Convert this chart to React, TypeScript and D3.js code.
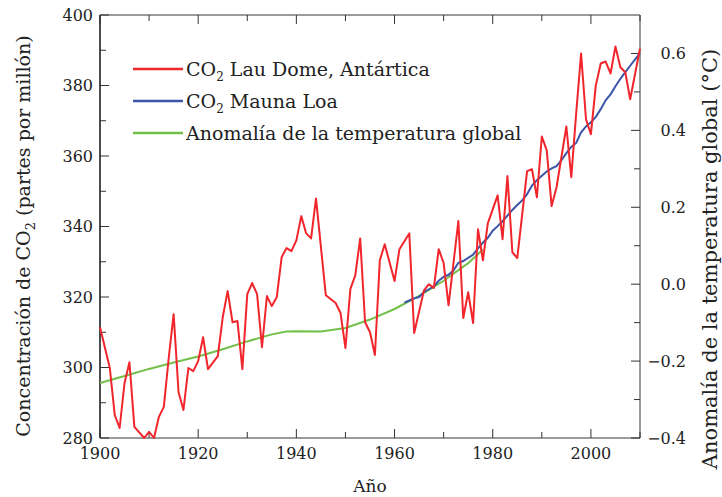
import React from 'react'
import * as d3 from 'd3'

// red series (global temperature anomaly, right axis)
const redYears = [1900, 1902, 1903, 1904, 1905, 1906, 1907, 1909, 1910, 1911, 1912, 1913, 1914, 1915, 1916, 1917, 1918, 1919, 1920, 1921, 1922, 1924, 1925, 1926, 1927, 1928, 1929, 1930, 1931, 1932, 1933, 1934, 1935, 1936, 1937, 1938, 1939, 1940, 1941, 1942, 1943, 1944, 1946, 1948, 1949, 1950, 1951, 1952, 1953, 1954, 1955, 1956, 1957, 1958, 1960, 1961, 1963, 1964, 1966, 1967, 1968, 1969, 1970, 1971, 1973, 1974, 1975, 1976, 1977, 1978, 1979, 1981, 1982, 1983, 1984, 1985, 1987, 1988, 1989, 1990, 1991, 1992, 1993, 1995, 1996, 1997, 1998, 1999, 2000, 2001, 2002, 2003, 2004, 2005, 2006, 2007, 2008, 2010]
const redValues = [-0.112, -0.218, -0.34, -0.374, -0.257, -0.203, -0.371, -0.4, -0.384, -0.4, -0.345, -0.319, -0.192, -0.078, -0.281, -0.327, -0.218, -0.226, -0.2, -0.138, -0.221, -0.187, -0.086, -0.018, -0.099, -0.096, -0.221, -0.026, 0.003, -0.026, -0.164, -0.031, -0.057, -0.034, 0.07, 0.094, 0.086, 0.114, 0.177, 0.132, 0.119, 0.223, -0.029, -0.049, -0.075, -0.166, -0.013, 0.023, 0.119, -0.099, -0.125, -0.184, 0.062, 0.104, 0.008, 0.091, 0.132, -0.127, -0.016, 0.0, -0.01, 0.091, 0.055, -0.055, 0.164, -0.088, -0.021, -0.101, 0.143, 0.062, 0.158, 0.231, 0.117, 0.281, 0.083, 0.068, 0.294, 0.299, 0.226, 0.384, 0.348, 0.203, 0.252, 0.41, 0.278, 0.444, 0.6, 0.429, 0.39, 0.517, 0.574, 0.579, 0.548, 0.618, 0.564, 0.551, 0.481, 0.613]

// Mauna Loa CO2 (ppm, left axis)
const maunaYears = d3.range(1962, 2011)
const maunaValues = [318.4, 319.0, 319.6, 320.0, 321.4, 322.2, 323.0, 324.6, 325.7, 326.3, 327.5, 329.7, 330.2, 331.1, 332.0, 333.8, 335.4, 336.8, 338.8, 340.1, 341.5, 343.1, 344.7, 346.1, 347.4, 349.2, 351.6, 353.1, 354.4, 355.6, 356.5, 357.1, 358.8, 360.8, 362.6, 363.7, 366.7, 368.4, 369.6, 371.1, 373.3, 375.8, 377.5, 379.8, 381.9, 383.8, 385.6, 387.4, 389.2]

// green smooth series (ppm, left axis)
const greenYears = [1900, 1905, 1910, 1915, 1920, 1925, 1930, 1935, 1938, 1940, 1945, 1950, 1955, 1960, 1965, 1970, 1975, 1978]
const greenValues = [295.6, 297.6, 299.6, 301.4, 303.1, 305.2, 307.4, 309.4, 310.2, 310.3, 310.2, 311.2, 313.6, 316.6, 320.3, 324.6, 329.6, 333.5]

const leftTicks = [280, 300, 320, 340, 360, 380, 400]
const leftMinor = [290, 310, 330, 350, 370, 390]
const rightTicks = [-0.4, -0.2, 0.0, 0.2, 0.4, 0.6]
const rightMinor = [-0.3, -0.1, 0.1, 0.3, 0.5]
const yearTicks = [1900, 1920, 1940, 1960, 1980, 2000]
const yearMinor = [1910, 1930, 1950, 1970, 1990, 2010]

const legendLabels = ['Lau Dome, Antártica', 'Mauna Loa', 'Anomalía de la temperatura global']
const legendColors = ['#f0262c', '#3b55a8', '#72c04a']

export default function App () {
  const width = 722
  const height = 497
  const left = 100
  const right = 640
  const top = 15
  const bottom = 438
  const font = 'DejaVu Serif'

  const x = d3.scaleLinear().domain([1900, 2010]).range([left, right])
  const yL = d3.scaleLinear().domain([280, 400]).range([bottom, top])
  const yR = d3.scaleLinear().domain([-0.4, 0.7]).range([bottom, top])
  const fmt = d3.format('.1f')

  const lineL = d3.line<number>().x((d, i) => x(greenYears[i])).y(d => yL(d))
  const lineM = d3.line<number>().x((d, i) => x(maunaYears[i])).y(d => yL(d))
  const lineR = d3.line<number>().x((d, i) => x(redYears[i])).y(d => yR(d))

  const axisGray = '#7a7a7a'
  const tickCol = '#333'

  return (
    <svg width={width} height={height} style={{ position: 'absolute', left: 0, top: 0, background: '#fff' }} fontFamily={font}>
      {/* frame */}
      <line x1={left} x2={right} y1={top} y2={top} stroke={axisGray} strokeWidth={1.5} />
      <line x1={left} x2={right} y1={bottom} y2={bottom} stroke={axisGray} strokeWidth={1.5} />
      <line x1={right} x2={right} y1={top} y2={bottom} stroke={axisGray} strokeWidth={1.5} />
      <line x1={left} x2={left} y1={top} y2={bottom} stroke='#111' strokeWidth={1.5} />

      {/* x ticks, bottom and top */}
      {yearTicks.map(t => (
        <g key={'xt' + t}>
          <line x1={x(t)} x2={x(t)} y1={bottom} y2={bottom - 9} stroke={tickCol} />
          <line x1={x(t)} x2={x(t)} y1={top} y2={top + 9} stroke={tickCol} />
          <text x={x(t)} y={459} textAnchor='middle' fontSize={16} fill='#222'>{t}</text>
        </g>
      ))}
      {yearMinor.map(t => (
        <g key={'xm' + t}>
          <line x1={x(t)} x2={x(t)} y1={bottom} y2={bottom - 6} stroke={tickCol} />
          <line x1={x(t)} x2={x(t)} y1={top} y2={top + 6} stroke={tickCol} />
        </g>
      ))}

      {/* left axis */}
      {leftTicks.map(t => (
        <g key={'lt' + t}>
          <line x1={left} x2={left + 9} y1={yL(t)} y2={yL(t)} stroke={tickCol} />
          <text x={93} y={yL(t)} dy='0.35em' textAnchor='end' fontSize={16} fill='#222'>{t}</text>
        </g>
      ))}
      {leftMinor.map(t => (
        <line key={'lm' + t} x1={left} x2={left + 6} y1={yL(t)} y2={yL(t)} stroke={tickCol} />
      ))}

      {/* right axis */}
      {rightTicks.map(t => (
        <g key={'rt' + t}>
          <line x1={right} x2={right - 9} y1={yR(t)} y2={yR(t)} stroke={tickCol} />
          <text x={686} y={yR(t)} dy='0.35em' textAnchor='end' fontSize={16} fill='#222'>{fmt(t)}</text>
        </g>
      ))}
      {rightMinor.map(t => (
        <line key={'rm' + t} x1={right} x2={right - 6} y1={yR(t)} y2={yR(t)} stroke={tickCol} />
      ))}

      {/* data */}
      <path d={lineL(greenValues) || ''} fill='none' stroke={legendColors[2]} strokeWidth={2} />
      <path d={lineM(maunaValues) || ''} fill='none' stroke={legendColors[1]} strokeWidth={2} />
      <path d={lineR(redValues) || ''} fill='none' stroke={legendColors[0]} strokeWidth={2} strokeLinejoin='round' />

      {/* legend */}
      {legendLabels.map((lab, i) => (
        <g key={lab} transform={`translate(133, ${69 + i * 32})`}>
          <line x1={0} x2={50} y1={0} y2={0} stroke={legendColors[i]} strokeWidth={2.5} />
          <text x={53} y={7} fontSize={19} fill='#222'>
            {i < 2 ? <>CO<tspan fontSize={12} dy={5}>2</tspan><tspan dy={-5}> {lab}</tspan></> : lab}
          </text>
        </g>
      ))}

      {/* axis titles */}
      <text x={370} y={492} textAnchor='middle' fontSize={17} fill='#222'>Año</text>
      <text transform='translate(30, 236) rotate(-90)' textAnchor='middle' fontSize={19} fill='#222'>
        Concentración de CO<tspan fontSize={13} dy={5}>2</tspan><tspan dy={-5}> (partes por millón)</tspan>
      </text>
      <text transform='translate(717, 259) rotate(-90)' textAnchor='middle' fontSize={21} fill='#222'>
        Anomalía de la temperatura global (°C)
      </text>
    </svg>
  )
}
